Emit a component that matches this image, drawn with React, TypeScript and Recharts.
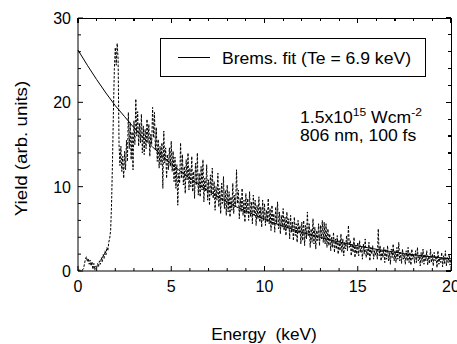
import React from 'react';
import { LineChart, Line, XAxis, YAxis, Legend, Customized } from 'recharts';

const FONT = '"Liberation Sans", Arial, Helvetica, sans-serif';

// Bremsstrahlung fit curve (Te = 6.9 keV)
const fitEnergy = [0, 0.5, 1, 1.5, 2, 2.5, 3, 3.5, 4, 4.5, 5, 5.5, 6, 6.5, 7, 7.5, 8, 8.5, 9, 9.5, 10,
  10.5, 11, 11.5, 12, 12.5, 13, 13.5, 14, 14.5, 15, 15.5, 16, 16.5, 17, 17.5, 18, 18.5, 19, 19.5, 20];
const fitYield = [26.2, 24.4, 22.7, 21.1, 19.6, 18.3, 17.0, 15.8, 14.7, 13.7, 12.7, 11.8, 11.0, 10.2, 9.5,
  8.8, 8.2, 7.6, 7.1, 6.6, 6.15, 5.7, 5.3, 4.95, 4.6, 4.28, 3.98, 3.7, 3.44, 3.2, 2.98, 2.77, 2.58, 2.4,
  2.23, 2.07, 1.93, 1.79, 1.67, 1.55, 1.44];

// Measured spectrum, sampled every 0.05 keV
const STEP = 0.05;
const spectrum0to3 = [0.1, 0.1, 0.1, 0.1, 0.1, 0.15, 0.3, 0.9, 1.4, 1.7,
  1.1, 1.5, 0.8, 1.3, 0.6, 1.1, 0.2, 0.9, 0.1, 0.6,
  0.3, 0.9, 0.5, 1.2, 0.8, 1.6, 1.1, 2.0, 1.5, 2.4,
  1.9, 2.8, 2.4, 3.4, 3.9, 4.8, 8.0, 13.0, 19.0, 24.0,
  26.5, 24.4, 27.0, 25.2, 15.0, 12.5, 14.8, 11.8, 13.6, 11.0,
  14.2, 12.0, 15.5, 13.0, 18.8, 14.5, 17.6, 13.2, 16.5, 12.0];
const spectrum3to5 = [17.8, 15.0, 20.4, 16.0, 18.9, 14.8, 17.5, 15.2, 18.6, 14.0,
  17.2, 13.8, 16.8, 14.5, 18.0, 15.3, 17.4, 13.6, 16.2, 15.0,
  19.4, 15.8, 18.8, 14.4, 17.0, 13.0, 15.6, 12.2, 14.8, 12.6,
  15.2, 9.8, 16.6, 12.8, 14.6, 11.0, 13.8, 12.0, 14.6, 12.4];
const spectrum5to8 = [15.4, 11.8, 14.2, 10.6, 13.5, 9.8, 12.6, 7.8, 11.6, 10.4,
  15.2, 11.0, 13.8, 10.2, 12.4, 9.2, 13.2, 10.8, 14.0, 9.6,
  12.2, 10.0, 13.6, 9.4, 11.8, 8.6, 12.8, 10.2, 14.0, 9.0,
  11.6, 8.8, 12.4, 9.6, 13.2, 8.2, 11.0, 9.4, 12.6, 8.4,
  10.8, 7.8, 11.4, 9.0, 12.2, 8.6, 10.6, 7.2, 10.0, 8.4,
  11.6, 7.6, 9.8, 6.8, 10.4, 8.0, 11.2, 7.4, 9.6, 6.6];
const spectrum8to12 = [10.2, 7.0, 9.4, 6.4, 8.8, 7.2, 10.4, 6.8, 9.0, 7.6,
  12.0, 8.0, 9.6, 6.2, 8.6, 7.0, 9.8, 6.6, 8.4, 5.8,
  9.2, 6.8, 8.6, 6.0, 9.4, 6.4, 8.2, 5.6, 9.0, 6.6,
  8.4, 5.4, 7.8, 6.2, 8.8, 5.8, 7.6, 5.2, 8.4, 6.0,
  8.0, 5.4, 7.2, 5.8, 8.6, 5.6, 7.4, 4.8, 7.8, 5.4,
  6.8, 4.6, 7.6, 5.6, 8.2, 5.0, 7.0, 4.4, 6.6, 5.2,
  7.4, 4.8, 6.4, 4.2, 7.0, 5.0, 6.2, 3.8, 6.6, 4.6,
  5.8, 3.6, 6.4, 4.2, 5.6, 3.4, 6.0, 4.4, 5.4, 3.2];
const spectrum12to16 = [5.8, 3.6, 6.0, 3.0, 5.4, 3.8, 7.0, 4.2, 5.6, 2.8,
  5.0, 3.4, 6.2, 3.2, 5.2, 2.6, 4.8, 3.6, 5.6, 3.0,
  5.4, 3.8, 6.0, 3.4, 5.8, 3.2, 5.6, 2.8, 5.0, 3.0,
  4.4, 2.4, 4.0, 2.8, 4.6, 2.2, 3.8, 2.6, 4.2, 2.0,
  3.6, 2.4, 4.4, 2.2, 3.8, 1.8, 3.4, 2.6, 4.2, 2.4,
  5.4, 2.8, 3.6, 1.8, 3.2, 2.2, 4.0, 1.6, 3.0, 2.0,
  3.4, 1.8, 3.6, 2.2, 2.8, 1.4, 3.2, 2.0, 3.8, 1.6,
  2.6, 1.8, 3.4, 1.2, 2.8, 2.0, 3.0, 1.4, 2.4, 1.8];
const spectrum16to20 = [2.6, 1.4, 5.0, 1.8, 3.0, 1.2, 2.4, 1.6, 2.8, 1.0,
  2.6, 1.4, 3.0, 1.2, 2.2, 0.8, 2.6, 1.6, 3.2, 1.2,
  2.4, 1.0, 2.8, 1.4, 3.4, 1.2, 2.2, 0.9, 2.6, 1.4,
  2.0, 0.8, 2.4, 1.2, 2.8, 1.0, 2.2, 0.7, 2.6, 1.4,
  2.0, 0.9, 2.4, 1.0, 2.8, 1.2, 1.8, 0.6, 2.2, 1.0,
  2.6, 0.8, 2.0, 1.2, 2.4, 0.7, 1.8, 0.9, 2.6, 1.0,
  2.0, 0.6, 2.2, 1.2, 1.8, 0.4, 2.4, 0.8, 1.6, 1.0,
  2.2, 0.5, 1.8, 0.9, 2.4, 0.6, 1.6, 1.0, 2.0, 0.7,
  1.5];

const segments: [number, number[]][] = [
  [0, spectrum0to3], [3, spectrum3to5], [5, spectrum5to8],
  [8, spectrum8to12], [12, spectrum12to16], [16, spectrum16to20],
];

const xDomain: [number, number] = [0, 20];
const yDomain: [number, number] = [0, 30];
const xTicks = [0, 1, 2, 3, 4, 5, 6, 7, 8, 9, 10, 11, 12, 13, 14, 15, 16, 17, 18, 19, 20];
const xLabels = [0, 5, 10, 15, 20];
const yTicks = [0, 2, 4, 6, 8, 10, 12, 14, 16, 18, 20, 22, 24, 26, 28, 30];
const yLabels = [0, 10, 20, 30];

const fitLabel = 'Brems. fit (Te = 6.9 keV)';

// layout
const CHART_W = 457;
const CHART_H = 344;
const MARGIN = { top: 18, right: 6, bottom: 43, left: 0 };
const Y_AXIS_W = 78;
const X_AXIS_H = 30;
const PLOT_L = MARGIN.left + Y_AXIS_W;
const PLOT_R = CHART_W - MARGIN.right;
const PLOT_T = MARGIN.top;
const PLOT_B = CHART_H - MARGIN.bottom - X_AXIS_H;

const fitData = fitEnergy.map((e, i) => ({ e, y: fitYield[i] }));
const measuredData = segments.flatMap(([start, vals]) =>
  vals.map((y, i) => ({ e: +(start + i * STEP).toFixed(2), y }))
);

const XTick = (props: any) => {
  const { x, y, payload } = props;
  const v = payload.value;
  const major = xLabels.includes(v);
  const len = major ? 5 : 3;
  return (
    <g>
      <line x1={x} x2={x} y1={y} y2={y - len} stroke="#000" strokeWidth={1} />
      {major && (
        <text x={x} y={y + 21} textAnchor="middle" fontSize={16} fontFamily={FONT} fill="#000">
          {v}
        </text>
      )}
    </g>
  );
};

const YTick = (props: any) => {
  const { x, y, payload } = props;
  const v = payload.value;
  const major = yLabels.includes(v);
  const len = major ? 5 : 3;
  return (
    <g>
      <line x1={x} x2={x + len} y1={y} y2={y} stroke="#000" strokeWidth={1} />
      {major && (
        <text x={x - 7} y={y + 6} textAnchor="end" fontSize={16} fontFamily={FONT} fill="#000">
          {v}
        </text>
      )}
    </g>
  );
};

// Top and right edges of the box frame, with their inward ticks
const Frame = () => {
  const px = (v: number) => PLOT_L + ((v - xDomain[0]) / (xDomain[1] - xDomain[0])) * (PLOT_R - PLOT_L);
  const py = (v: number) => PLOT_B - ((v - yDomain[0]) / (yDomain[1] - yDomain[0])) * (PLOT_B - PLOT_T);
  return (
    <g stroke="#000" strokeWidth={1.2} fill="none" shapeRendering="crispEdges">
      <line x1={PLOT_L} x2={PLOT_R + 0.5} y1={PLOT_T + 0.5} y2={PLOT_T + 0.5} />
      <line x1={PLOT_R + 0.5} x2={PLOT_R + 0.5} y1={PLOT_T} y2={PLOT_B} />
      {xTicks.map((v) => (
        <line key={'t' + v} x1={px(v)} x2={px(v)} y1={PLOT_T} y2={PLOT_T + (xLabels.includes(v) ? 5 : 3)} />
      ))}
      {yTicks.map((v) => (
        <line key={'r' + v} x1={PLOT_R} x2={PLOT_R - (yLabels.includes(v) ? 5 : 3)} y1={py(v)} y2={py(v)} />
      ))}
    </g>
  );
};

const Notes = () => (
  <g fontFamily={FONT} fill="#000">
    <Frame />
    <g transform="translate(300,123) scale(1.1,1)">
      <text fontSize={16}>
        1.5x10<tspan fontSize={11} dy={-7}>15</tspan>
        <tspan fontSize={16} dy={7}>{'\u00a0'}Wcm</tspan>
        <tspan fontSize={11} dy={-7}>-2</tspan>
      </text>
    </g>
    <g transform="translate(300,141) scale(1.1,1)">
      <text fontSize={16}>806 nm, 100 fs</text>
    </g>
    <g transform="translate(27,148.5) rotate(-90) scale(1.1,1)">
      <text textAnchor="middle" fontSize={17}>Yield (arb. units)</text>
    </g>
    <g transform="translate(264,340) scale(1.08,1)">
      <text textAnchor="middle" fontSize={16} style={{ whiteSpace: 'pre' }}>Energy  (keV)</text>
    </g>
  </g>
);

const LegendBox = () => (
  <svg width={266} height={39} style={{ display: 'block' }}>
    <rect x={0.5} y={0.5} width={265} height={38} fill="#fff" stroke="#000" strokeWidth={1} />
    <line x1={18} x2={50} y1={19.5} y2={19.5} stroke="#000" strokeWidth={1} />
    <g transform="translate(62,26) scale(1.1,1)">
      <text fontSize={16} fontFamily={FONT} fill="#000">{fitLabel}</text>
    </g>
  </svg>
);

export default function App() {
  return (
    <div style={{ position: 'absolute', left: 0, top: 0, width: CHART_W, height: CHART_H, background: '#fff' }}>
      <LineChart width={CHART_W} height={CHART_H} margin={MARGIN}>
        <XAxis
          dataKey="e"
          type="number"
          domain={xDomain}
          ticks={xTicks}
          interval={0}
          height={X_AXIS_H}
          tickSize={0}
          tickMargin={0}
          tickLine={false}
          axisLine={{ stroke: '#000', strokeWidth: 1 }}
          tick={(p: any) => <XTick {...p} />}
        />
        <YAxis
          type="number"
          domain={yDomain}
          ticks={yTicks}
          interval={0}
          width={Y_AXIS_W}
          tickSize={0}
          tickMargin={0}
          tickLine={false}
          axisLine={{ stroke: '#000', strokeWidth: 1 }}
          tick={(p: any) => <YTick {...p} />}
        />
        <Line
          data={fitData}
          dataKey="y"
          name={fitLabel}
          type="linear"
          stroke="#000"
          strokeWidth={1}
          dot={false}
          activeDot={false}
          isAnimationActive={false}
        />
        <Line
          data={measuredData}
          dataKey="y"
          name="Measured"
          legendType="none"
          type="linear"
          stroke="#000"
          strokeWidth={1}
          strokeDasharray="2.5 1.5"
          dot={false}
          activeDot={false}
          isAnimationActive={false}
        />
        <Legend
          layout="horizontal"
          verticalAlign="middle"
          align="center"
          wrapperStyle={{ position: 'absolute', left: 160, top: 38, width: 266, height: 39 }}
          content={() => <LegendBox />}
        />
        <Customized component={Notes} />
      </LineChart>
    </div>
  );
}
